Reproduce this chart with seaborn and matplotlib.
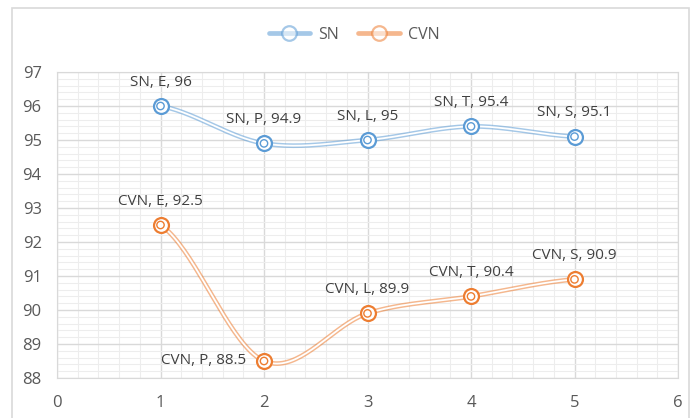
import matplotlib
matplotlib.use("Agg")
import matplotlib.pyplot as plt
import numpy as np
import pandas as pd
import seaborn as sns
from matplotlib.patches import Rectangle
from matplotlib.lines import Line2D
from matplotlib.ticker import MultipleLocator

# data
x = [1, 2, 3, 4, 5]
sn = [96, 94.9, 95, 95.4, 95.1]
cvn = [92.5, 88.5, 89.9, 90.4, 90.9]
codes = ["E", "P", "L", "T", "S"]

BLUE = "#5B9BD5"
ORANGE = "#ED7D31"
GREY = "#595959"


def smooth(xs, ys, n=40):
    # Excel style smoothed line (Catmull-Rom through the points)
    xs = np.asarray(xs, float)
    ys = np.asarray(ys, float)
    px = np.concatenate([[2 * xs[0] - xs[1]], xs, [2 * xs[-1] - xs[-2]]])
    py = np.concatenate([[ys[0]], ys, [ys[-1]]])
    outx, outy = [], []
    for i in range(1, len(px) - 2):
        t = np.linspace(0, 1, n)
        p0, p1, p2, p3 = py[i - 1], py[i], py[i + 1], py[i + 2]
        q0, q1, q2, q3 = px[i - 1], px[i], px[i + 1], px[i + 2]
        c1y = p1 + (p2 - p0) / 6
        c2y = p2 - (p3 - p1) / 6
        c1x = q1 + (q2 - q0) / 6
        c2x = q2 - (q3 - q1) / 6
        by = (1 - t) ** 3 * p1 + 3 * (1 - t) ** 2 * t * c1y + 3 * (1 - t) * t ** 2 * c2y + t ** 3 * p2
        bx = (1 - t) ** 3 * q1 + 3 * (1 - t) ** 2 * t * c1x + 3 * (1 - t) * t ** 2 * c2x + t ** 3 * q2
        outx.extend(bx)
        outy.extend(by)
    return np.array(outx), np.array(outy)


sns.set_style("white")
plt.rcParams['font.family'] = ['Open Sans', 'DejaVu Sans']

fig = plt.figure(figsize=(6.94, 4.18), dpi=100)
fig.patches.append(Rectangle((12 / 694, -0.05), 677 / 694, 1.05 - 8 / 418,
                             transform=fig.transFigure, fill=False,
                             edgecolor="#D9D9D9", linewidth=1.2))
ax = fig.add_axes([57 / 694, 1 - 378 / 418, 621 / 694, 306 / 418])

ax.set_xlim(0, 6)
ax.set_ylim(88, 97)
ax.xaxis.set_major_locator(MultipleLocator(1))
ax.yaxis.set_major_locator(MultipleLocator(1))
ax.xaxis.set_minor_locator(MultipleLocator(0.2))
ax.yaxis.set_minor_locator(MultipleLocator(0.2))
ax.grid(which="major", color="#D9D9D9", linewidth=1.0)
ax.grid(which="minor", color="#EDEDED", linewidth=0.8)
ax.set_axisbelow(True)
for s in ax.spines.values():
    s.set_color("#D9D9D9")
ax.tick_params(which="both", length=0, labelsize=12, labelcolor=GREY)
ax.tick_params(axis="x", pad=12)
ax.tick_params(axis="y", pad=11)

for ys, col, name in [(sn, BLUE, "SN"), (cvn, ORANGE, "CVN")]:
    sx, sy = smooth(x, ys)
    sns.lineplot(x=sx, y=sy, ax=ax, color=col, linewidth=3.4, alpha=0.55,
                 sort=False, estimator=None, legend=False)
    sns.lineplot(x=sx, y=sy, ax=ax, color="white", linewidth=1.3,
                 sort=False, estimator=None, legend=False)
    sns.scatterplot(x=x, y=ys, ax=ax, s=115, facecolor="white", edgecolor=col,
                    linewidth=1.6, zorder=5, legend=False)
    sns.scatterplot(x=x, y=ys, ax=ax, s=28, facecolor="none", edgecolor=col,
                    linewidth=1.0, zorder=6, legend=False)

for xi, v, c in zip(x, sn, codes):
    ax.annotate(f"SN, {c}, {v:g}", (xi, v), xytext=(0, 17), textcoords="offset points",
                ha="center", va="center", fontsize=11, color="#404040")
for xi, v, c in zip(x, cvn, codes):
    if c == "P":
        ax.annotate(f"CVN, {c}, {v:g}", (xi, v), xytext=(-13, 0), textcoords="offset points",
                    ha="right", va="center", fontsize=11, color="#404040")
    else:
        ax.annotate(f"CVN, {c}, {v:g}", (xi, v), xytext=(0, 17), textcoords="offset points",
                    ha="center", va="center", fontsize=11, color="#404040")

handles = []
for col, name in [(BLUE, "SN"), (ORANGE, "CVN")]:
    handles.append(Line2D([], [], color=col, alpha=0.55, linewidth=3.4, marker="o",
                          markersize=10.5, markerfacecolor="white", markeredgecolor=col,
                          markeredgewidth=1.6, label=name))
leg = fig.legend(handles=handles, loc="center", bbox_to_anchor=(0.51, 1 - 35 / 418),
                 ncol=2, frameon=False, fontsize=11.5, handlelength=2.6,
                 columnspacing=1.2, handletextpad=0.5)
for t in leg.get_texts():
    t.set_color(GREY)

fig.savefig("out.png", dpi=100)
